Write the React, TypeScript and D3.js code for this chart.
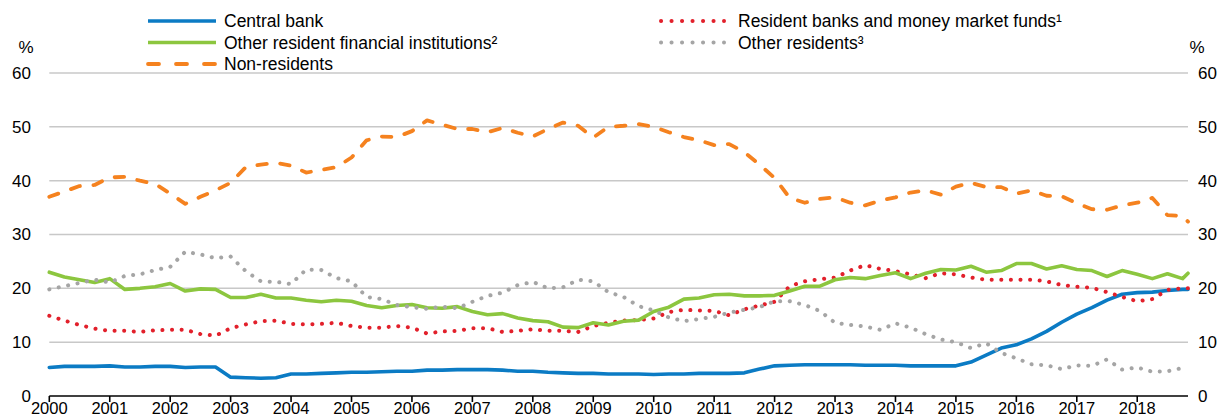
import React from 'react';
import * as d3 from 'd3';

// Tick labels (years) and observation dates (quarterly, last obs. Oct/Nov 2018)
const YEARS = d3.range(2000, 2019);
const DATES = [...d3.range(76).map((i) => 2000 + i / 4), 2018.84];

const centralBank = [
  5.3, 5.5, 5.5, 5.5,
  5.6, 5.4, 5.4, 5.5,
  5.5, 5.3, 5.4, 5.4,
  3.5, 3.4, 3.3, 3.4,
  4.1, 4.1, 4.2, 4.3,
  4.4, 4.4, 4.5, 4.6,
  4.6, 4.8, 4.8, 4.9,
  4.9, 4.9, 4.8, 4.6,
  4.6, 4.4, 4.3, 4.2,
  4.2, 4.1, 4.1, 4.1,
  4.0, 4.1, 4.1, 4.2,
  4.2, 4.2, 4.3, 5.0,
  5.6, 5.7, 5.8, 5.8,
  5.8, 5.8, 5.7, 5.7,
  5.7, 5.6, 5.6, 5.6,
  5.6, 6.3, 7.6, 8.9,
  9.5, 10.6, 12.0, 13.7,
  15.2, 16.4, 17.8, 18.9,
  19.2, 19.3, 19.6, 19.8, 19.8,
];

const residentBanks = [
  14.9, 14.0, 13.2, 12.5,
  12.1, 12.1, 11.9, 12.2,
  12.3, 12.3, 11.5, 11.2,
  12.6, 13.3, 13.9, 14.0,
  13.4, 13.3, 13.4, 13.6,
  13.0, 12.7, 12.7, 13.0,
  12.7, 11.6, 12.0, 12.1,
  12.6, 12.6, 11.9, 12.1,
  12.4, 12.1, 12.1, 11.9,
  13.0, 13.6, 14.0, 14.1,
  14.4, 15.6, 16.0, 15.9,
  15.8, 15.0, 16.1, 16.8,
  17.5, 20.4, 21.3, 21.7,
  22.0, 23.3, 24.3, 23.6,
  23.2, 22.6, 21.9, 22.8,
  22.6, 22.0, 21.6, 21.6,
  21.6, 21.6, 21.3, 20.6,
  20.3, 20.1, 19.3, 18.4,
  17.6, 18.0, 19.7, 20.0, 20.0,
];

const otherFinancial = [
  23.0, 22.1, 21.6, 21.1,
  21.8, 19.8, 20.0, 20.3,
  20.9, 19.5, 19.9, 19.8,
  18.3, 18.3, 18.9, 18.2,
  18.2, 17.8, 17.5, 17.8,
  17.6, 16.8, 16.4, 16.8,
  17.0, 16.4, 16.3, 16.6,
  15.7, 15.1, 15.3, 14.5,
  14.0, 13.8, 12.8, 12.7,
  13.6, 13.2, 13.9, 14.1,
  15.7, 16.5, 18.0, 18.2,
  18.8, 18.9, 18.6, 18.6,
  18.7, 19.5, 20.4, 20.4,
  21.6, 22.0, 21.8, 22.4,
  22.9, 21.8, 22.8, 23.5,
  23.4, 24.1, 23.0, 23.3,
  24.6, 24.6, 23.6, 24.2,
  23.5, 23.3, 22.2, 23.3,
  22.6, 21.8, 22.7, 21.8, 22.8,
];

const otherResidents = [
  19.8, 20.4, 21.0, 21.6,
  21.1, 22.3, 22.6, 23.4,
  24.0, 26.8, 26.3, 25.6,
  25.9, 23.2, 21.3, 21.2,
  20.8, 23.5, 23.4, 21.9,
  21.3, 18.4, 18.0, 16.9,
  16.5, 16.2, 16.6, 16.3,
  17.5, 18.6, 19.2, 20.6,
  21.2, 20.0, 20.2, 21.6,
  21.3, 19.3, 18.4, 16.7,
  15.9, 14.6, 13.9, 14.3,
  14.7, 15.5, 16.0, 16.5,
  17.6, 17.6, 16.9, 15.8,
  13.6, 13.2, 12.9, 12.3,
  13.5, 12.7, 11.5, 10.5,
  10.0, 8.9, 9.8, 8.0,
  7.0, 5.9, 5.7, 5.0,
  5.7, 5.6, 6.8, 4.9,
  5.3, 4.5, 4.6, 5.2, 5.3,
];

const nonResidents = [
  37.0, 38.0, 39.0, 39.2,
  40.6, 40.7, 40.0, 39.4,
  37.6, 35.7, 37.0, 38.2,
  39.6, 42.5, 43.0, 43.3,
  42.8, 41.5, 42.0, 42.5,
  44.3, 47.5, 48.2, 48.1,
  49.2, 51.2, 50.4, 49.6,
  49.6, 49.0, 49.8, 48.9,
  48.2, 49.6, 50.8, 50.2,
  48.0, 50.0, 50.2, 50.5,
  50.0, 49.0, 48.1, 47.5,
  46.6, 46.8, 45.3, 43.0,
  40.5, 36.8, 35.9, 36.6,
  36.9, 35.9, 35.4, 36.3,
  36.9, 37.8, 38.2, 37.4,
  38.9, 39.6, 38.8, 38.8,
  37.6, 38.2, 37.2, 37.1,
  35.8, 34.7, 34.6, 35.4,
  35.9, 36.8, 33.6, 33.4, 32.4,
];

const Y_TICKS = [0, 10, 20, 30, 40, 50, 60];

const FONT = "'Liberation Sans', Arial, Helvetica, sans-serif";
const BLUE = '#0b7bc4';
const RED = '#e2202b';
const GREEN = '#8cc63f';
const GREY = '#a5a5a5';
const ORANGE = '#f5821f';

export default function App() {
  const x = d3.scaleLinear().domain([2000, 2018.84]).range([49.3, 1188]);
  const y = d3.scaleLinear().domain([0, 60]).range([396, 73]);
  const lineGen = d3
    .line<number>()
    .x((_, i) => x(DATES[i]))
    .y((d) => y(d));

  const series = [
    { vals: centralBank, color: BLUE, dash: undefined as string | undefined, width: 3.6 },
    { vals: residentBanks, color: RED, dash: '0.1 9.5', width: 4 },
    { vals: otherFinancial, color: GREEN, dash: undefined, width: 3.6 },
    { vals: otherResidents, color: GREY, dash: '0.1 9.5', width: 4 },
    { vals: nonResidents, color: ORANGE, dash: '9.5 13.5', width: 3.8 },
  ];

  const legendLeft = [
    { label: 'Central bank', color: BLUE, dash: undefined as string | undefined, w: 3.6, y: 21 },
    { label: 'Other resident financial institutions\u00B2', color: GREEN, dash: undefined, w: 3.6, y: 42.5 },
    { label: 'Non-residents', color: ORANGE, dash: '11 17', w: 3.8, y: 64 },
  ];
  const legendRight = [
    { label: 'Resident banks and money market funds\u00B9', color: RED, dash: '0.1 10.4', w: 4, y: 21 },
    { label: 'Other residents\u00B3', color: GREY, dash: '0.1 10.4', w: 4, y: 42.5 },
  ];

  const [x0, x1] = x.range();

  return (
    <svg
      width={1228}
      height={418}
      style={{ position: 'absolute', left: 0, top: 0, background: '#fff' }}
      fontFamily={FONT}
    >
      {/* gridlines */}
      {Y_TICKS.filter((t) => t > 0).map((t) => (
        <line key={t} x1={x0} x2={x1} y1={y(t)} y2={y(t)} stroke="#c8c8c8" strokeWidth={1.5} />
      ))}

      {/* series */}
      {series.map((s, i) => (
        <path
          key={i}
          d={lineGen(s.vals) || ''}
          fill="none"
          stroke={s.color}
          strokeWidth={s.width}
          strokeDasharray={s.dash}
          strokeLinecap="round"
          strokeLinejoin="round"
        />
      ))}

      {/* x axis */}
      <line x1={x0} x2={x1} y1={y(0)} y2={y(0)} stroke="#000" strokeWidth={1.6} />
      {YEARS.map((yr) => (
        <g key={yr}>
          <line x1={x(yr)} x2={x(yr)} y1={y(0)} y2={y(0) + 6} stroke="#000" strokeWidth={1.6} />
          <text x={x(yr)} y={414} textAnchor="middle" fontSize={16.5} fill="#000">
            {yr}
          </text>
        </g>
      ))}

      {/* y axis labels */}
      {Y_TICKS.map((t) => (
        <g key={t}>
          <text x={31} y={y(t)} dy="0.35em" textAnchor="end" fontSize={17} fill="#000">
            {t}
          </text>
          <text x={1198} y={y(t)} dy="0.35em" textAnchor="start" fontSize={17} fill="#000">
            {t}
          </text>
        </g>
      ))}
      <text x={26} y={47} dy="0.35em" textAnchor="middle" fontSize={17} fill="#000">%</text>
      <text x={1197} y={47} dy="0.35em" textAnchor="middle" fontSize={17} fill="#000">%</text>

      {/* legend */}
      {legendLeft.map((l) => (
        <g key={l.label}>
          <line
            x1={148}
            x2={216}
            y1={l.y}
            y2={l.y}
            stroke={l.color}
            strokeWidth={l.w}
            strokeDasharray={l.dash}
            strokeLinecap={l.dash ? 'round' : 'butt'}
          />
          <text x={224} y={l.y} dy="0.35em" fontSize={17.5} fill="#000">
            {l.label}
          </text>
        </g>
      ))}
      {legendRight.map((l) => (
        <g key={l.label}>
          <line
            x1={661}
            x2={724}
            y1={l.y}
            y2={l.y}
            stroke={l.color}
            strokeWidth={l.w}
            strokeDasharray={l.dash}
            strokeLinecap="round"
          />
          <text x={738} y={l.y} dy="0.35em" fontSize={17.5} fill="#000">
            {l.label}
          </text>
        </g>
      ))}
    </svg>
  );
}
